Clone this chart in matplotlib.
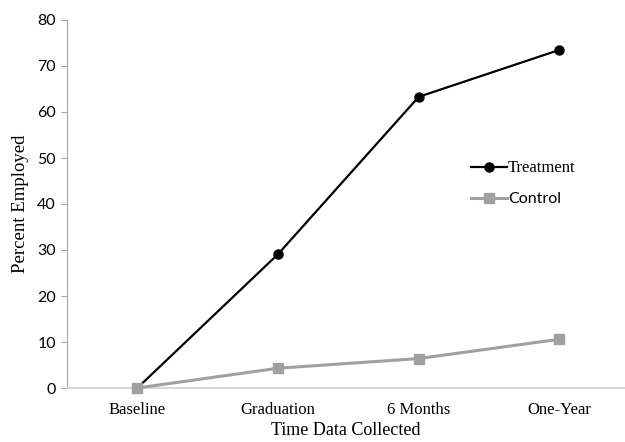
import matplotlib
matplotlib.use("Agg")
import matplotlib.pyplot as plt

CATEGORIES = ["Baseline", "Graduation", "6 Months", "One-Year"]
TREATMENT = [0, 29.1, 63.3, 73.5]
CONTROL = [0, 4.3, 6.4, 10.6]

SERIF = "Liberation Serif"
SANS = "Lato"

fig = plt.figure(figsize=(6.25, 4.42), dpi=100)
ax = fig.add_axes([67 / 625, 54 / 442, 558 / 625, 368 / 442])

xs = list(range(len(CATEGORIES)))
ax.plot(xs, TREATMENT, "-o", color="black", lw=1.6, markersize=6.5,
        label="Treatment", clip_on=False, zorder=3)
ax.plot(xs, CONTROL, "-s", color="#a0a0a0", lw=2.2, markersize=7,
        label="Control", clip_on=False, zorder=4)

ax.set_xlim(-0.5, 3.466)
ax.set_ylim(0, 80)
ax.set_yticks(range(0, 81, 10))
ax.set_xticks(xs)
ax.set_xticklabels(CATEGORIES, fontfamily=SERIF, fontsize=12)
for lbl in ax.get_yticklabels():
    lbl.set_fontfamily(SANS)
    lbl.set_fontsize(11.5)

ax.spines["top"].set_visible(False)
ax.spines["right"].set_visible(False)
ax.spines["left"].set_color("#a6a6a6")
ax.spines["bottom"].set_color("#d9d9d9")
ax.spines["bottom"].set_linewidth(1.5)
ax.tick_params(axis="x", length=0, pad=10)
ax.tick_params(axis="y", length=4, color="#a6a6a6", pad=4)

ax.set_xlabel("Time Data Collected", fontfamily=SERIF, fontsize=13, labelpad=3)
ax.set_ylabel("Percent Employed", fontfamily=SERIF, fontsize=13.5, labelpad=6)

leg = ax.legend(loc="upper left", bbox_to_anchor=(465 / 625, 1 - 154 / 442),
                bbox_transform=fig.transFigure, frameon=False,
                handlelength=2.6, handletextpad=0.1, labelspacing=1.2,
                borderaxespad=0)
texts = leg.get_texts()
texts[0].set_fontfamily(SERIF)
texts[0].set_fontsize(12)
texts[1].set_fontfamily(SANS)
texts[1].set_fontsize(11.5)

fig.savefig("out.png", dpi=100)
